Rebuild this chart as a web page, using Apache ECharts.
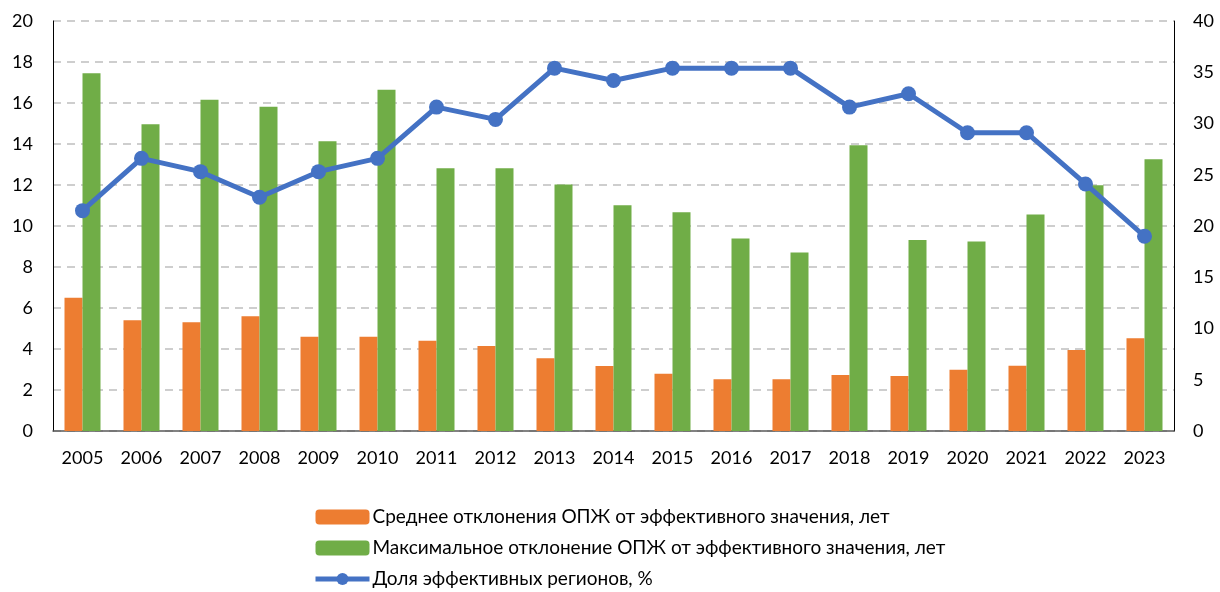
<!DOCTYPE html>
<html>
<head>
<meta charset="utf-8">
<script src="https://cdn.jsdelivr.net/npm/echarts@6/dist/echarts.min.js"></script>
<style>
  html, body { margin: 0; padding: 0; background: #ffffff; }
  #chart { width: 1220px; height: 592px; }
</style>
</head>
<body>
<div id="chart"></div>
<script>
// годы
var years = ['2005', '2006', '2007', '2008', '2009', '2010', '2011', '2012', '2013', '2014',
  '2015', '2016', '2017', '2018', '2019', '2020', '2021', '2022', '2023'];
// среднее отклонение, лет
var avgDev = [6.5, 5.4, 5.3, 5.6, 4.6, 4.6, 4.4, 4.15, 3.55, 3.17, 2.79, 2.53, 2.52, 2.73, 2.68, 2.99, 3.18, 3.95, 4.52];
// максимальное отклонение, лет
var maxDev = [17.45, 14.96, 16.16, 15.82, 14.13, 16.65, 12.82, 12.82, 12.02, 11.01, 10.67, 9.39, 8.71, 13.94, 9.32, 9.24, 10.56, 11.99, 13.26];
// доля эффективных регионов, %
var share = [21.5, 26.6, 25.3, 22.8, 25.3, 26.6, 31.6, 30.4, 35.4, 34.2, 35.4, 35.4, 35.4, 31.6, 32.9, 29.1, 29.1, 24.1, 19.0];

var names = [
  'Среднее отклонения ОПЖ от эффективного значения, лет',
  'Максимальное отклонение ОПЖ от эффективного значения, лет',
  'Доля эффективных регионов, %'
];

var font = 'Lato, "Open Sans", sans-serif';
var myChart = echarts.init(document.getElementById('chart'));

var option = {
  backgroundColor: '#ffffff',
  animation: false,
  textStyle: { fontFamily: font },
  color: ['#ED7D31', '#70AD47', '#4472C4'],
  grid: {
    left: 53,
    right: 46,
    top: 21,
    bottom: 161
  },
  legend: {
    orient: 'vertical',
    left: 313,
    top: 507,
    padding: 0,
    itemWidth: 54,
    itemHeight: 15,
    itemGap: 11,
    data: [names[0], names[1], { name: names[2], lineStyle: { width: 5 } }],
    textStyle: { fontSize: 19, lineHeight: 20, color: '#000000', fontFamily: font, padding: [0, 0, 0, -2] }
  },
  xAxis: {
    type: 'category',
    data: years,
    axisLine: { lineStyle: { color: '#595959', width: 1.5 } },
    axisTick: { show: false },
    axisLabel: { color: '#000000', fontSize: 18, margin: 18 }
  },
  yAxis: [{
    type: 'value',
    min: 0,
    max: 20,
    interval: 2,
    axisLine: { show: true, lineStyle: { color: '#000000', width: 1 } },
    axisTick: { show: false },
    splitLine: { lineStyle: { color: '#bfbfbf', type: [8, 6], width: 1.5 } },
    axisLabel: { color: '#000000', fontSize: 18, margin: 20 }
  }, {
    type: 'value',
    min: 0,
    max: 40,
    interval: 5,
    axisLine: { show: true, lineStyle: { color: '#000000', width: 1 } },
    axisTick: { show: false },
    splitLine: { show: false },
    axisLabel: { color: '#000000', fontSize: 18, margin: 19 }
  }],
  series: [{
    name: names[0],
    type: 'bar',
    data: avgDev,
    barWidth: 18,
    barGap: '0%',
    itemStyle: { color: '#ED7D31' }
  }, {
    name: names[1],
    type: 'bar',
    data: maxDev,
    barWidth: 18,
    itemStyle: { color: '#70AD47' }
  }, {
    name: names[2],
    type: 'line',
    yAxisIndex: 1,
    data: share,
    symbol: 'circle',
    symbolSize: 15,
    lineStyle: { width: 5, color: '#4472C4' },
    itemStyle: { color: '#4472C4' }
  }]
};

myChart.setOption(option);
</script>
</body>
</html>
